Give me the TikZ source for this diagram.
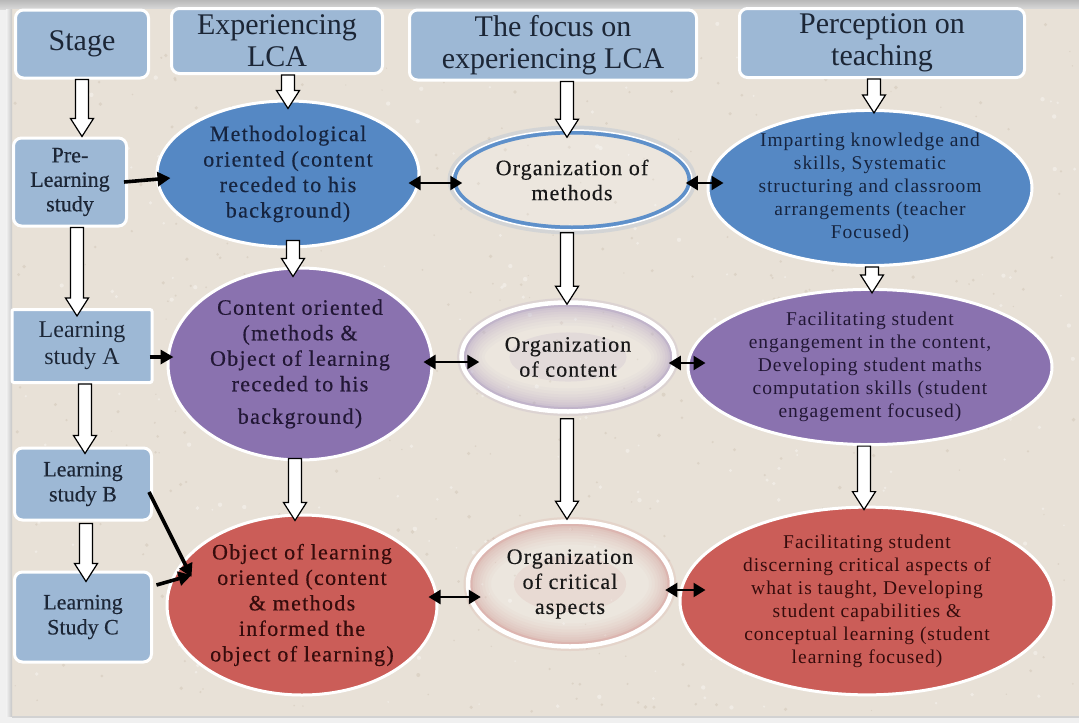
\documentclass[tikz,border=0pt]{standalone}
\usepackage{fontspec}
\setmainfont{Liberation Serif}
\newfontfamily\tnr{Liberation Serif}
\usetikzlibrary{shapes.geometric,arrows.meta,calc}
\definecolor{bg}{HTML}{E8E1D7}
\definecolor{speck}{HTML}{D4CABC}
\definecolor{hdrblue}{HTML}{9DB8D5}
\definecolor{hdrtext}{HTML}{1C2636}
\definecolor{eblue}{HTML}{5588C4}
\definecolor{epurple}{HTML}{8A72AF}
\definecolor{ered}{HTML}{CB5D58}
\definecolor{tblue}{HTML}{16243F}
\definecolor{tpurple}{HTML}{221735}
\definecolor{tred}{HTML}{360C0C}
\definecolor{ringblue}{HTML}{5E90CA}
\definecolor{ringpurple}{HTML}{9C88BC}
\definecolor{ringred}{HTML}{D28A86}
\newcommand\hazering[3]{\draw[#1, line width=#2, opacity=#3] let \p1=(path picture bounding box.north east), \p2=(path picture bounding box.center) in (\p2) ellipse [x radius=\x1-\x2, y radius=\y1-\y2];}
\newcommand\hazecore[1]{\fill[#1, opacity=.12] let \p1=(path picture bounding box.north east), \p2=(path picture bounding box.center) in (\p2) ellipse [x radius=0.55*\x1-0.55*\x2, y radius=0.45*\y1-0.45*\y2];}
\newcommand\blockarr[2]{\path[blk] let \p1=#1, \p2=#2 in (\x1-6.5pt,\y1) -- (\x1+6.5pt,\y1) -- (\x1+6.5pt,\y2+18pt) -- (\x1+11.5pt,\y2+18pt) -- (\x1,\y2) -- (\x1-11.5pt,\y2+18pt) -- (\x1-6.5pt,\y2+18pt) -- cycle;}
\tikzset{
 hdr/.style={rectangle, rounded corners=8pt, fill=hdrblue, draw=white, line width=3pt, align=center, text=hdrtext, font=\tnr\fontsize{30}{32}\selectfont, inner sep=0pt},
 stg/.style={rectangle, rounded corners=8pt, fill=hdrblue, draw=white, line width=3pt, align=center, text=hdrtext, inner sep=0pt},
 ell/.style={ellipse, draw=white, line width=3pt, align=center, inner sep=0pt},
 c1/.style={font=\tnr\fontsize{22}{25.5}\selectfont\addfontfeatures{LetterSpace=6,FakeBold=0.4}},
 c3/.style={font=\tnr\fontsize{19.5}{23}\selectfont\addfontfeatures{LetterSpace=5}},
 ring/.style={ellipse, inner sep=0pt, fill=white, fill opacity=.18, text opacity=1, align=center, text=black!90,
   font=\tnr\fontsize{22}{25}\selectfont\addfontfeatures{LetterSpace=5,FakeBold=0.4},
   preaction={draw=#1, line width=9pt, opacity=.15},
   path picture={\hazecore{#1}\hazering{#1}{46pt}{.04}\hazering{#1}{40pt}{.04}\hazering{#1}{34pt}{.05}\hazering{#1}{28pt}{.05}\hazering{#1}{23pt}{.06}\hazering{#1}{18pt}{.07}\hazering{#1}{13pt}{.09}\hazering{#1}{9pt}{.12}}},
 blk/.style={draw=black, fill=white, line width=1.2pt, line join=miter},
 barrow/.style={line width=3.6pt, -{Triangle[length=13pt,width=14pt]}},
 darrow/.style={line width=2.4pt, {Triangle[length=12pt,width=14pt]}-{Triangle[length=12pt,width=14pt]}}
}
\begin{document}
\begin{tikzpicture}[x=1pt,y=-1pt]
\useasboundingbox (0,0) rectangle (1079,723);
% frame and background
\fill[gray!12] (0,0) rectangle (1079,723);
\shade[top color=gray!55, bottom color=gray!30] (0,0) rectangle (1079,9);
\fill[bg] (12,9) rectangle (1079,716);
\shade[left color=gray!10, right color=gray!45] (6,9) rectangle (12,716);
\fill[gray!35] (12,716) rectangle (1079,718);
\pgfmathsetseed{7}
\foreach \i in {1,...,500}{
  \pgfmathsetmacro\px{15+1060*rnd}
  \pgfmathsetmacro\py{12+700*rnd}
  \pgfmathsetmacro\pr{0.6+1.4*rnd}
  \fill[speck, opacity=.6] (\px,\py) circle[radius=\pr];
}
\foreach \i in {1,...,300}{
  \pgfmathsetmacro\px{15+1060*rnd}
  \pgfmathsetmacro\py{12+700*rnd}
  \pgfmathsetmacro\pr{0.8+1.5*rnd}
  \fill[white, opacity=.35] (\px,\py) circle[radius=\pr];
}

% headers
\node[hdr, minimum width=133, minimum height=68] (stage) at (82,44) {Stage};
\node[hdr, minimum width=211, minimum height=65] (exp) at (277,41) {Experiencing\\LCA};
\node[hdr, minimum width=287, minimum height=70] (focus) at (553,45) {The focus on\\experiencing LCA};
\node[hdr, minimum width=285, minimum height=69] (perc) at (882,43) {Perception on\\teaching};

% stage boxes
\node[stg, minimum width=113, minimum height=88, font=\tnr\fontsize{22}{24.5}\selectfont\addfontfeatures{FakeBold=0.5}] (pre) at (70,182) {Pre-\\Learning\\study};
\node[stg, rounded corners=2pt, minimum width=140, minimum height=73, font=\tnr\fontsize{24}{27}\selectfont] (la) at (82,346) {Learning\\study A};
\node[stg, minimum width=137, minimum height=72, font=\tnr\fontsize{22}{25}\selectfont\addfontfeatures{FakeBold=0.3}] (lb) at (83,484) {Learning\\study B};
\node[stg, minimum width=137, minimum height=90, font=\tnr\fontsize{22}{25}\selectfont\addfontfeatures{FakeBold=0.3}] (lc) at (83,617) {Learning\\Study C};

% column 1
\node[ell, c1, fill=eblue, text=tblue, minimum width=262, minimum height=146] (meth) at (288,174)
  {Methodological\\oriented (content\\receded to his\\background)};
\node[ell, c1, fill=epurple, text=tpurple, minimum width=264, minimum height=192] (cont) at (300,364)
  {Content oriented\\(methods \&\\Object of learning\\receded to his\\[7pt]background)};
\node[ell, c1, fill=ered, text=tred, minimum width=270, minimum height=180] (obj) at (302,605)
  {Object of learning\\oriented (content\\\& methods\\informed the\\object of learning)};

% column 2
\node[ring=ringblue, draw=white, line width=1.5pt, minimum width=240, minimum height=100,
  path picture={\hazering{ringblue}{9pt}{1}}] (orgm) at (572,180) {Organization of\\methods};
\node[ring=ringpurple, draw=white, line width=4.5pt, minimum width=213, minimum height=109] (orgc) at (568,357)
  {Organization\\of content};
\node[ring=ringred, draw=white, line width=4.5pt, minimum width=204, minimum height=125] (orgk) at (570,584)
  {Organization\\of critical\\aspects};

% column 3
\node[ell, c3, fill=eblue, text=tblue, minimum width=324, minimum height=140] (imp) at (870,188)
  {Imparting knowledge and\\skills, Systematic\\structuring and classroom\\arrangements (teacher\\Focused)};
\node[ell, c3, fill=epurple, text=tpurple, minimum width=364, minimum height=140] (face) at (870,367)
  {Facilitating student\\engangement in the content,\\Developing student maths\\computation skills (student\\engagement focused)};
\node[ell, c3, fill=ered, text=tred, minimum width=374, minimum height=166] (facd) at (867,601)
  {Facilitating student\\discerning critical aspects of\\what is taught, Developing\\student capabilities \&\\conceptual learning (student\\learning focused)};

% block arrows
\blockarr{(stage.south)}{(pre.north)}
\blockarr{([shift={(11,0)}]exp.south)}{([shift={(0,9)}]meth.north)}
\blockarr{([shift={(14,0)}]focus.south)}{([shift={(0,8)}]orgm.north)}
\blockarr{([shift={(-8,0)}]perc.south)}{([shift={(0,4)}]imp.north)}
\blockarr{([shift={(7,0)}]pre.south)}{([shift={(0,8)}]la.north)}
\blockarr{([shift={(5,-8)}]meth.south)}{([shift={(0,10)}]cont.north)}
\blockarr{([shift={(-5,2)}]orgm.south)}{([shift={(0,4)}]orgc.north)}
\blockarr{([shift={(2,0)}]imp.south)}{([shift={(0,5)}]face.north)}
\blockarr{([shift={(3,0)}]la.south)}{([shift={(0,7)}]lb.north)}
\blockarr{([shift={(-5,-3)}]cont.south)}{([shift={(0,7)}]obj.north)}
\blockarr{([shift={(-1,5)}]orgc.south)}{([shift={(0,0)}]orgk.north)}
\blockarr{([shift={(-6,0)}]face.south)}{([shift={(0,4)}]facd.north)}
\blockarr{([shift={(3,2)}]lb.south)}{([shift={(0,11)}]lc.north)}

% black arrows
\draw[barrow] ([shift={(-4,0)}]pre.east) -- ([shift={(15,4)}]meth.west);
\draw[barrow] ([shift={(-4,11)}]la.east) -- ([shift={(7,-7)}]cont.west);
\draw[barrow] ([shift={(-4,8)}]lb.east) -- ([shift={(26,-28)}]obj.west);
\draw[barrow] ([shift={(3.5,-32)}]lc.east) -- ([shift={(26,-30)}]obj.west);

% double arrows
\draw[darrow] ([shift={(-12,9)}]meth.east) -- ([shift={(11,3)}]orgm.west);
\draw[darrow] ([shift={(-7,3)}]orgm.east) -- ([shift={(17,-5)}]imp.west);
\draw[darrow] ([shift={(-10,-2)}]cont.east) -- ([shift={(20,5)}]orgc.west);
\draw[darrow] ([shift={(-8,6)}]orgc.east) -- ([shift={(19,-4)}]face.west);
\draw[darrow] ([shift={(-10,-8)}]obj.east) -- ([shift={(15,13)}]orgk.west);
\draw[darrow] ([shift={(-9,6)}]orgk.east) -- ([shift={(27,-11)}]facd.west);
\end{tikzpicture}
\end{document}
